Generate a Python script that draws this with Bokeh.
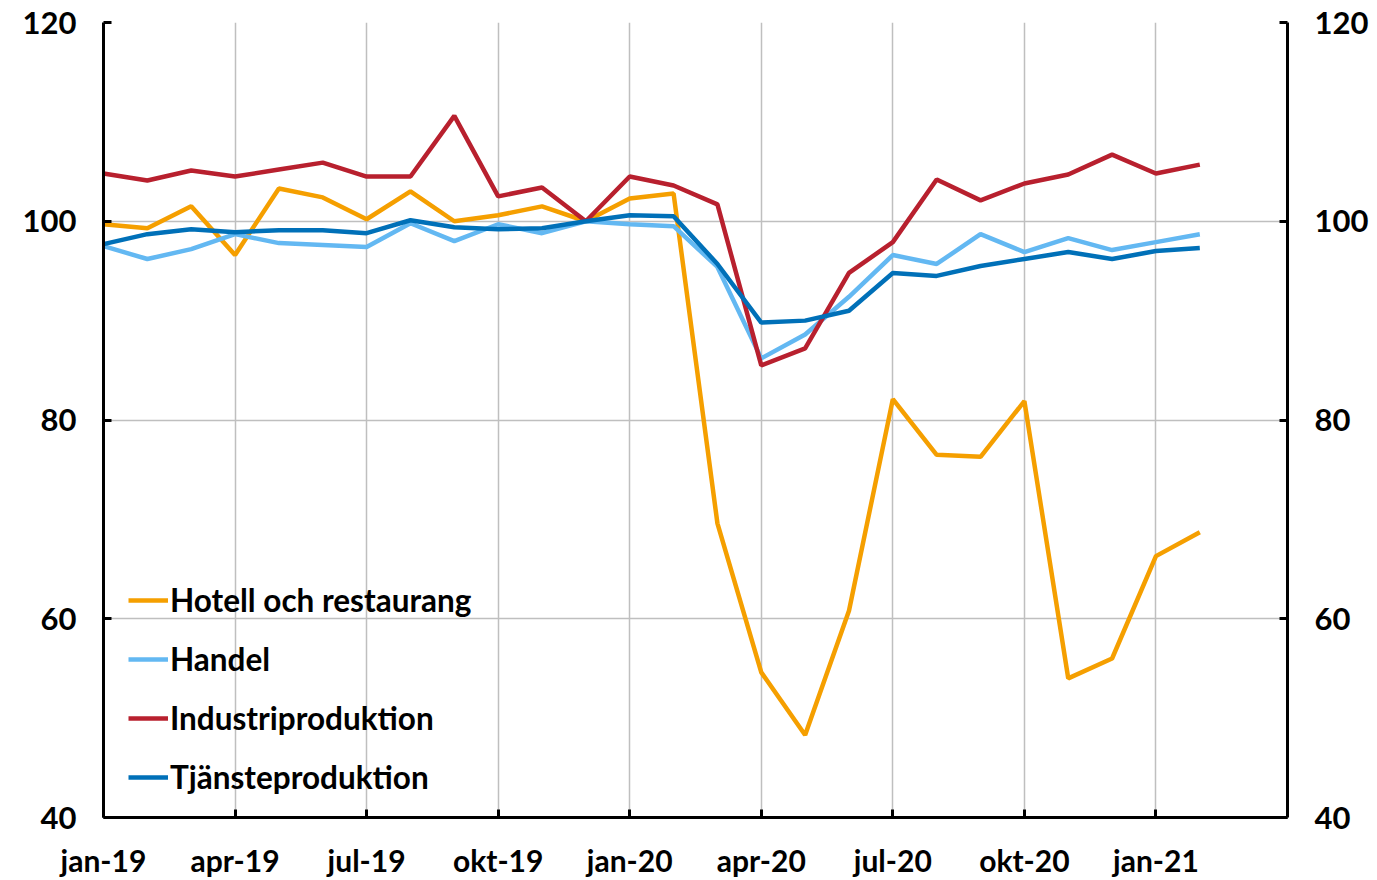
from bokeh.plotting import figure
from bokeh.models import FixedTicker, LinearAxis, Legend, LegendItem, Range1d
from bokeh.embed import file_html
from bokeh.resources import INLINE

months = list(range(26))  # jan-19 .. feb-21
tick_pos = [0, 3, 6, 9, 12, 15, 18, 21, 24]
tick_labels = ["jan-19", "apr-19", "jul-19", "okt-19", "jan-20", "apr-20", "jul-20", "okt-20", "jan-21"]

hotell = [99.7, 99.3, 101.5, 96.6, 103.3, 102.4, 100.2, 103.0, 100.0, 100.6,
          101.5, 100.0, 102.3, 102.8, 69.6, 54.6, 48.3, 60.8, 82.1, 76.5,
          76.3, 81.9, 54.0, 56.0, 66.3, 68.7]
handel = [97.5, 96.2, 97.2, 98.7, 97.8, 97.6, 97.4, 99.8, 98.0, 99.7,
          98.8, 100.0, 99.7, 99.5, 95.4, 86.2, 88.6, 92.4, 96.6, 95.7,
          98.7, 96.9, 98.3, 97.1, 97.9, 98.7]
industri = [104.8, 104.1, 105.1, 104.5, 105.2, 105.9, 104.5, 104.5, 110.6, 102.5,
            103.4, 100.0, 104.5, 103.6, 101.7, 85.5, 87.2, 94.8, 97.9, 104.2,
            102.1, 103.8, 104.7, 106.7, 104.8, 105.7]
tjanste = [97.7, 98.7, 99.2, 98.9, 99.1, 99.1, 98.8, 100.1, 99.4, 99.2,
           99.3, 100.0, 100.6, 100.5, 95.7, 89.8, 90.0, 91.0, 94.8, 94.5,
           95.5, 96.2, 96.9, 96.2, 97.0, 97.3]

series = [
    ("Hotell och restaurang", hotell, "#F59F00"),
    ("Handel", handel, "#63B8F2"),
    ("Industriproduktion", industri, "#B8202E"),
    ("Tjänsteproduktion", tjanste, "#0070B8"),
]

FONT = "Lato"

p = figure(width=1373, height=880, output_backend="svg", toolbar_location=None,
           x_range=Range1d(0, 27), y_range=Range1d(40, 120),
           min_border_left=103, min_border_right=86, min_border_top=22, min_border_bottom=62)
p.outline_line_color = None
p.background_fill_color = "white"

items = []
for name, vals, col in series:
    r = p.line(months, vals, line_color=col, line_width=4.5)
    items.append(LegendItem(label=name, renderers=[r]))

def style_axis(ax):
    ax.axis_line_color = "black"
    ax.axis_line_width = 3
    ax.major_tick_line_color = "black"
    ax.major_tick_line_width = 3
    ax.major_tick_in = 8
    ax.major_tick_out = 0
    ax.minor_tick_line_color = None
    ax.major_label_text_font = FONT
    ax.major_label_text_font_style = "bold"
    ax.major_label_text_font_size = "31px"
    ax.major_label_text_color = "black"

# x axis
xa = p.xaxis[0]
xa.ticker = FixedTicker(ticks=tick_pos)
xa.major_label_overrides = {t: l for t, l in zip(tick_pos, tick_labels)}
style_axis(xa)
xa.major_label_text_font_size = "30px"
xa.major_label_standoff = 24

# y axes
ya = p.yaxis[0]
ya.ticker = FixedTicker(ticks=[40, 60, 80, 100, 120])
style_axis(ya)
ya.major_label_standoff = 27

yr = LinearAxis(ticker=FixedTicker(ticks=[40, 60, 80, 100, 120]))
style_axis(yr)
yr.major_label_standoff = 27
p.add_layout(yr, "right")

p.xgrid.ticker = FixedTicker(ticks=tick_pos)
p.ygrid.ticker = FixedTicker(ticks=[40, 60, 80, 100, 120])
for g in (p.xgrid[0], p.ygrid[0]):
    g.grid_line_color = "#BFBFBF"
    g.grid_line_width = 1.5

legend = Legend(items=items, location=(25, 21), orientation="vertical",
                border_line_color=None, background_fill_alpha=0,
                label_text_font=FONT, label_text_font_style="bold",
                label_text_font_size="31.5px", label_text_color="black",
                glyph_width=40, glyph_height=30, label_height=30,
                spacing=21, padding=0, margin=0, label_standoff=2)
p.add_layout(legend, "center")

open("out.html", "w").write(file_html(p, INLINE))
